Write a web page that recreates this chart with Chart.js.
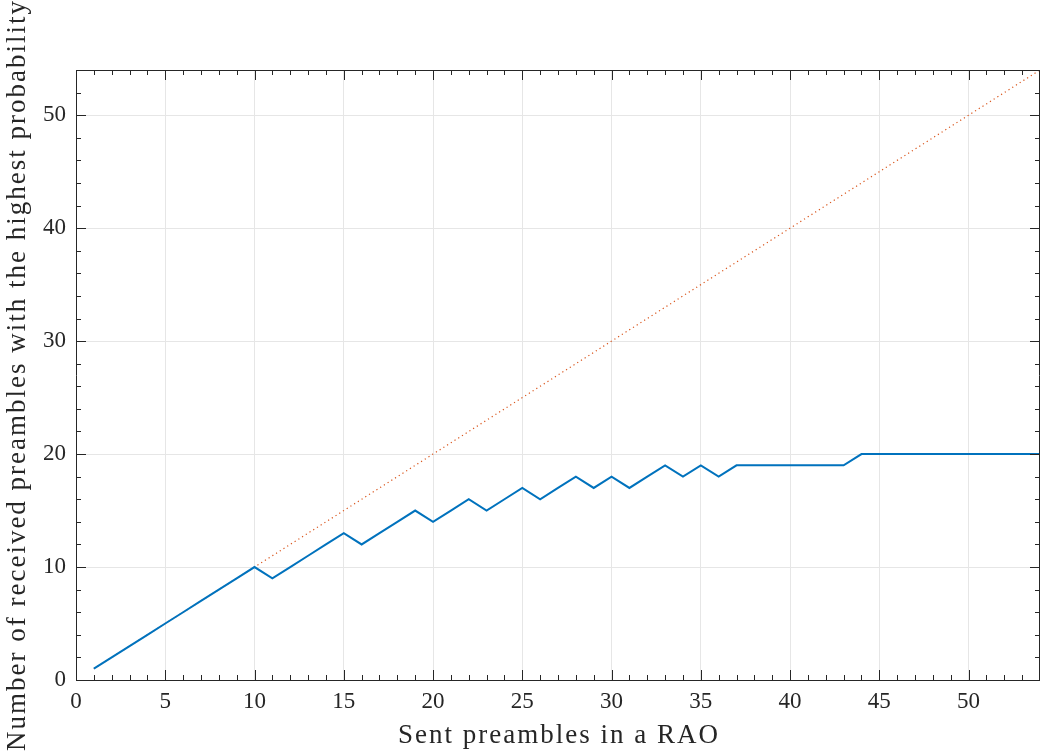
<!DOCTYPE html>
<html>
<head>
<meta charset="utf-8">
<script src="https://cdn.jsdelivr.net/npm/chart.js@4.4.0/dist/chart.umd.min.js"></script>
<style>
  html, body { margin: 0; padding: 0; background: #fff; }
  #wrap { width: 1040px; height: 755px; }
</style>
</head>
<body>
<div id="wrap"><canvas id="rxChart" width="1040" height="755"></canvas></div>
<script>
// sent preambles per RAO
const sent = [1, 2, 3, 4, 5, 6, 7, 8, 9, 10, 11, 12, 13, 14, 15, 16, 17, 18, 19, 20,
    21, 22, 23, 24, 25, 26, 27, 28, 29, 30, 31, 32, 33, 34, 35, 36, 37, 38, 39, 40,
    41, 42, 43, 44, 45, 46, 47, 48, 49, 50, 51, 52, 53, 54]
// most probable number of received preambles
const received = [1, 2, 3, 4, 5, 6, 7, 8, 9, 10, 9, 10, 11, 12, 13, 12, 13, 14, 15, 14,
    15, 16, 15, 16, 17, 16, 17, 18, 17, 18, 17, 18, 19, 18, 19, 18, 19, 19, 19, 19,
    19, 19, 19, 20, 20, 20, 20, 20, 20, 20, 20, 20, 20, 20]
// reference: every sent preamble received
const ideal = [1, 2, 3, 4, 5, 6, 7, 8, 9, 10, 11, 12, 13, 14, 15, 16, 17, 18, 19, 20,
    21, 22, 23, 24, 25, 26, 27, 28, 29, 30, 31, 32, 33, 34, 35, 36, 37, 38, 39, 40,
    41, 42, 43, 44, 45, 46, 47, 48, 49, 50, 51, 52, 53, 54]

const xTicks = [0, 5, 10, 15, 20, 25, 30, 35, 40, 45, 50]
const yTicks = [0, 10, 20, 30, 40, 50]
const xMinor = 1
const yMinor = 2
const xTitle = 'Sent preambles in a RAO'
const yTitle = 'Number of received preambles with the highest probability'

const axisColor = '#262626'
const serif = "'Liberation Serif', 'DejaVu Serif', serif"

// box + inward ticks on all four sides, matlab style
const boxTicks = {
    id: 'boxTicks',
    afterDraw(chart) {
        const ctx = chart.ctx
        const a = chart.chartArea
        const xs = chart.scales.x, ys = chart.scales.y
        ctx.save()
        ctx.strokeStyle = axisColor
        ctx.lineWidth = 1
        ctx.beginPath()
        ctx.rect(Math.round(a.left) + 0.5, Math.round(a.top) + 0.5,
            Math.round(a.right - a.left) - 1, Math.round(a.bottom - a.top))
        ctx.stroke()

        ctx.beginPath()
        for (let v = xs.min; v <= xs.max; v += xMinor) {
            const len = xTicks.includes(v) ? 10 : 5
            const px = Math.min(Math.round(xs.getPixelForValue(v)) + 0.5, a.right - 0.5)
            ctx.moveTo(px, a.bottom); ctx.lineTo(px, a.bottom - len)
            ctx.moveTo(px, a.top); ctx.lineTo(px, a.top + len)
        }
        for (let v = ys.min; v <= ys.max; v += yMinor) {
            const len = yTicks.includes(v) ? 10 : 5
            const py = Math.round(ys.getPixelForValue(v)) + 0.5
            ctx.moveTo(a.left, py); ctx.lineTo(a.left + len, py)
            ctx.moveTo(a.right, py); ctx.lineTo(a.right - len, py)
        }
        ctx.stroke()

        // axis titles, spaced out a little to get the wide latex look
        ctx.fillStyle = axisColor
        ctx.font = '27px ' + serif
        ctx.letterSpacing = '2px'
        ctx.textAlign = 'center'
        ctx.textBaseline = 'middle'
        ctx.fillText(xTitle, (a.left + a.right) / 2 + 1, 736)
        ctx.translate(18, (a.top + a.bottom) / 2)
        ctx.rotate(-Math.PI / 2)
        ctx.fillText(yTitle, 0, 0)
        ctx.restore()
    }
}

const ctx = document.getElementById('rxChart').getContext('2d')
const rxChart = new Chart(ctx, {
    type: 'line',
    data: {
        datasets: [{
            label: 'received',
            data: sent.map((s, i) => ({ x: s, y: received[i] })),
            borderColor: '#0072BD',
            borderWidth: 2,
            pointRadius: 0,
            tension: 0,
            order: 1
        }, {
            label: 'ideal',
            data: sent.map((s, i) => ({ x: s, y: ideal[i] })),
            borderColor: '#D95319',
            borderWidth: 1.2,
            borderDash: [1.2, 3.2],
            pointRadius: 0,
            tension: 0,
            order: 2
        }]
    },
    options: {
        responsive: false,
        animation: false,
        layout: { autoPadding: false, padding: { top: 70, right: 0, left: 0, bottom: 0 } },
        plugins: {
            legend: { display: false },
            tooltip: { enabled: false }
        },
        scales: {
            x: {
                type: 'linear',
                min: 0,
                max: 54,
                afterBuildTicks: s => { s.ticks = xTicks.map(v => ({ value: v })) },
                afterFit: s => { s.height = 75; s.paddingLeft = 0; s.paddingRight = 0 },
                border: { display: false },
                grid: { color: '#e6e6e6', drawTicks: false },
                ticks: {
                    padding: 8,
                    color: axisColor,
                    font: { family: serif, size: 23 },
                    maxRotation: 0
                }
            },
            y: {
                type: 'linear',
                min: 0,
                max: 54,
                afterBuildTicks: s => { s.ticks = yTicks.map(v => ({ value: v })) },
                afterFit: s => { s.width = 76; s.paddingTop = 0; s.paddingBottom = 0 },
                border: { display: false },
                grid: { color: '#e6e6e6', drawTicks: false },
                ticks: {
                    padding: 10,
                    color: axisColor,
                    font: { family: serif, size: 23 }
                }
            }
        }
    },
    plugins: [boxTicks]
})
</script>
</body>
</html>
